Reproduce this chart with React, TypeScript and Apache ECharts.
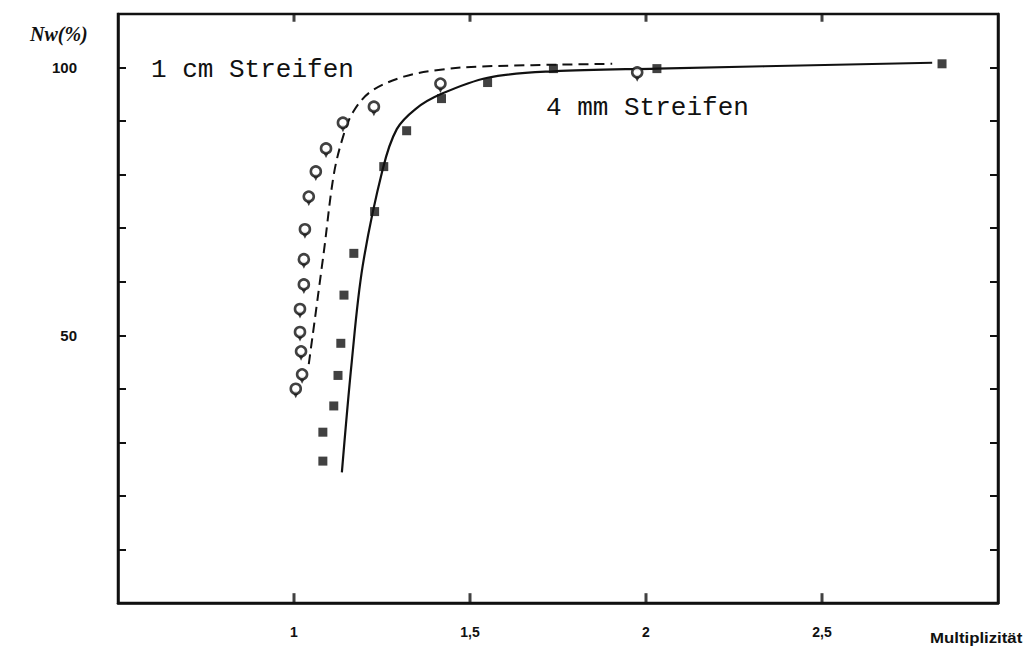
import React, { useEffect, useRef } from "react";
import * as echarts from "echarts";

const xTickValues = [1, 1.5, 2, 2.5];
const xTickLabels = ["1", "1,5", "2", "2,5"];
const yLabelValues = [50, 100];
const yMin = 0;
const yMax = 110;

// 1 cm Streifen: measured points (open markers)
const cmPoints: [number, number][] = [
  [1.005, 40.0], [1.023, 42.7], [1.02, 47.0], [1.017, 50.6], [1.017, 54.9],
  [1.028, 59.5], [1.028, 64.2], [1.031, 69.8], [1.042, 75.9], [1.062, 80.6],
  [1.091, 84.9], [1.139, 89.7], [1.227, 92.7], [1.416, 97.0], [1.975, 99.1],
];
// 1 cm Streifen: fitted curve (dashed)
const cmCurve: [number, number][] = [
  [1.042, 44.6], [1.085, 65.7], [1.113, 80.0], [1.139, 87.0], [1.167, 91.6],
  [1.218, 95.5], [1.312, 98.3], [1.416, 99.6], [1.53, 100.2], [1.904, 100.7],
];
// 4 mm Streifen: measured points (filled squares)
const mmPoints: [number, number][] = [
  [1.082, 26.5], [1.082, 31.9], [1.113, 36.8], [1.125, 42.5], [1.133, 48.5],
  [1.142, 57.5], [1.17, 65.3], [1.229, 73.1], [1.255, 81.5], [1.32, 88.2],
  [1.419, 94.2], [1.55, 97.2], [1.737, 99.8], [2.031, 99.8], [2.841, 100.7],
];
// 4 mm Streifen: fitted curve (solid)
const mmCurve: [number, number][] = [
  [1.136, 24.4], [1.164, 45.0], [1.195, 62.9], [1.252, 81.0], [1.292, 88.5],
  [1.346, 92.3], [1.416, 95.0], [1.55, 98.1], [1.737, 99.3], [2.031, 99.8],
  [2.813, 100.9],
];

const ink = "#111";

export default function App() {
  const ref = useRef<HTMLDivElement>(null);
  useEffect(() => {
    if (!ref.current) return;
    const chart = echarts.init(ref.current, undefined, { renderer: "svg" });
    const lineAxis = () => ({
      show: true,
      onZero: false,
      lineStyle: { color: ink, width: 2.5 },
    });
    const tick = (len: number) => ({
      show: true,
      inside: true,
      length: len,
      lineStyle: { color: ink, width: 2 },
    });
    const bottomTicks = xTickValues.map((v) => [v, yMin + 0.9]);
    const topTicks = xTickValues.map((v) => [v, yMax - 0.7]);
    chart.setOption({
      animation: false,
      backgroundColor: "#fff",
      grid: {
        show: true,
        left: 118,
        right: 38,
        top: 14,
        bottom: 56,
        borderColor: ink,
        borderWidth: 2.5,
        backgroundColor: "transparent",
      },
      xAxis: [
        {
          type: "value",
          position: "bottom",
          min: 0.5,
          max: 3,
          interval: 0.5,
          axisLine: lineAxis(),
          axisTick: { show: false },
          splitLine: { show: false },
          axisLabel: {
            margin: 22,
            color: ink,
            fontFamily: "Liberation Sans",
            fontWeight: "bold",
            fontSize: 14,
            formatter: (v: number) => {
              const i = xTickValues.findIndex((t) => Math.abs(t - v) < 1e-6);
              return i >= 0 ? xTickLabels[i] : "";
            },
          },
        },
      ],
      yAxis: [
        {
          type: "value",
          position: "left",
          min: yMin,
          max: yMax,
          interval: 10,
          axisLine: lineAxis(),
          axisTick: tick(8),
          splitLine: { show: false },
          axisLabel: {
            margin: 41,
            color: ink,
            fontFamily: "Liberation Sans",
            fontWeight: "bold",
            fontSize: 15,
            formatter: (v: number) => (yLabelValues.includes(v) ? String(v) : ""),
          },
        },
        {
          type: "value",
          position: "right",
          min: yMin,
          max: yMax,
          interval: 10,
          axisLine: lineAxis(),
          axisTick: tick(8),
          splitLine: { show: false },
          axisLabel: { show: false },
        },
      ],
      series: [
        {
          type: "line",
          name: "1 cm Streifen Kurve",
          data: cmCurve,
          showSymbol: false,
          smooth: 0.35,
          lineStyle: { color: ink, width: 2, type: [10, 6] },
          z: 2,
        },
        {
          type: "line",
          name: "4 mm Streifen Kurve",
          data: mmCurve,
          showSymbol: false,
          smooth: 0.35,
          lineStyle: { color: ink, width: 2.2 },
          z: 2,
        },
        {
          type: "scatter",
          name: "x-Striche unten",
          data: bottomTicks,
          clip: false,
          symbol: "rect",
          symbolSize: [3, 10],
          itemStyle: { color: ink },
          silent: true,
          z: 5,
        },
        {
          type: "scatter",
          name: "x-Striche oben",
          data: topTicks,
          clip: false,
          symbol: "rect",
          symbolSize: [3, 8],
          itemStyle: { color: ink },
          silent: true,
          z: 5,
        },
        {
          type: "scatter",
          name: "1 cm Streifen Stiel",
          data: cmPoints,
          symbol: "triangle",
          symbolRotate: 180,
          symbolSize: [7, 7],
          symbolOffset: [0, 6],
          itemStyle: { color: ink },
          z: 3,
        },
        {
          type: "scatter",
          name: "1 cm Streifen",
          data: cmPoints,
          symbol: "circle",
          symbolSize: 10,
          itemStyle: { color: "#fff", borderColor: ink, borderWidth: 2.6 },
          z: 4,
        },
        {
          type: "scatter",
          name: "4 mm Streifen",
          data: mmPoints,
          symbol: "rect",
          symbolSize: 9,
          itemStyle: { color: ink },
          z: 3,
        },
      ],
      graphic: [
        {
          type: "text",
          left: 30,
          top: 24,
          style: {
            text: "Nw(%)",
            font: "italic bold 20px 'Liberation Serif'",
            fill: ink,
          },
        },
        {
          type: "text",
          x: 151,
          y: 70,
          style: {
            text: "1 cm Streifen",
            font: "26px 'Liberation Mono'",
            fill: ink,
            verticalAlign: "middle",
          },
        },
        {
          type: "text",
          x: 546,
          y: 108,
          style: {
            text: "4 mm Streifen",
            font: "26px 'Liberation Mono'",
            fill: ink,
            verticalAlign: "middle",
          },
        },
        {
          type: "text",
          x: 930,
          y: 638,
          scaleX: 1.12,
          style: {
            text: "Multiplizität",
            font: "bold 15px 'Liberation Sans'",
            fill: ink,
            verticalAlign: "middle",
          },
        },
      ],
    });
    return () => chart.dispose();
  }, []);
  return (
    <div
      ref={ref}
      style={{ position: "fixed", left: 0, top: 0, width: 1036, height: 659 }}
    />
  );
}
